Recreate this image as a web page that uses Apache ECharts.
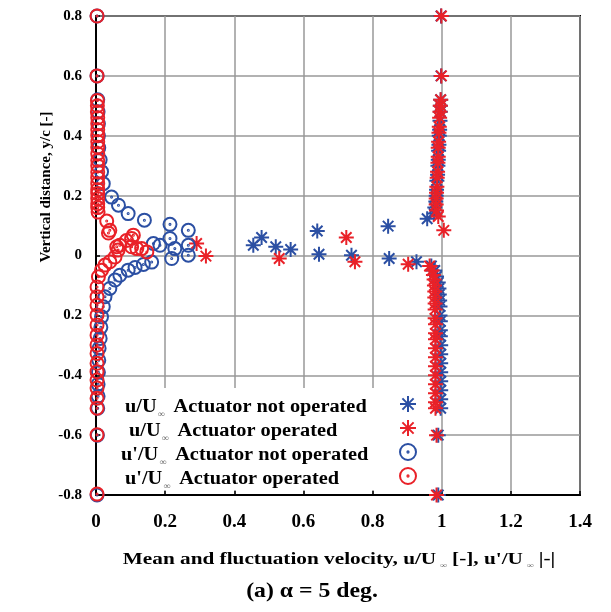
<!DOCTYPE html>
<html>
<head>
<meta charset="utf-8">
<script src="https://cdn.jsdelivr.net/npm/echarts@6/dist/echarts.min.js"></script>
<style>
  html, body { margin: 0; padding: 0; background: #fff; }
  #chart { width: 611px; height: 612px; }
</style>
</head>
<body>
<div id="chart"></div>
<script>
// tick labels as printed (the -0.2 label has lost its minus sign in the original)
var xTicks = ['0', '0.2', '0.4', '0.6', '0.8', '1', '1.2', '1.4']
var yTicks = { '0.8': '0.8', '0.6': '0.6', '0.4': '0.4', '0.2': '0.2', '0': '0', '-0.2': '0.2', '-0.4': '-0.4', '-0.6': '-0.6', '-0.8': '-0.8' }

var legendNames = [
  'u/U∞ Actuator not operated',
  'u/U∞ Actuator operated',
  "u'/U∞ Actuator not operated",
  "u'/U∞ Actuator operated"
]

// [velocity, y/c]
var meanOff = [
  [0.998, 0.8], [0.998, 0.6], [0.997, 0.52], [0.996, 0.5], [0.996, 0.48], [0.995, 0.45],
  [0.994, 0.42], [0.993, 0.4], [0.992, 0.37], [0.991, 0.35], [0.99, 0.32], [0.989, 0.3],
  [0.988, 0.27], [0.986, 0.25], [0.985, 0.22], [0.984, 0.2], [0.983, 0.18], [0.98, 0.16],
  [0.978, 0.14], [0.958, 0.123], [0.845, 0.098], [0.64, 0.082], [0.479, 0.06], [0.455, 0.034],
  [0.52, 0.029], [0.563, 0.02], [0.645, 0.004], [0.739, 0.001], [0.848, -0.01], [0.927, -0.021],
  [0.97, -0.035], [0.98, -0.05], [0.985, -0.07], [0.99, -0.09], [0.992, -0.11], [0.993, -0.13],
  [0.994, -0.15], [0.995, -0.17], [0.995, -0.2], [0.996, -0.22], [0.996, -0.25], [0.996, -0.27],
  [0.997, -0.3], [0.997, -0.33], [0.997, -0.36], [0.997, -0.39], [0.997, -0.42], [0.997, -0.45],
  [0.997, -0.48], [0.997, -0.51], [0.99, -0.6], [0.99, -0.8]
]
var meanOn = [
  [0.999, 0.8], [0.999, 0.6], [0.997, 0.52], [0.996, 0.5], [0.995, 0.48], [0.994, 0.46],
  [0.993, 0.43], [0.992, 0.41], [0.991, 0.38], [0.99, 0.36], [0.99, 0.33], [0.989, 0.31],
  [0.988, 0.28], [0.987, 0.26], [0.986, 0.23], [0.985, 0.21], [0.984, 0.19], [0.984, 0.17],
  [0.985, 0.15], [0.99, 0.13], [1.006, 0.084], [0.724, 0.06], [0.291, 0.04], [0.318, -0.002],
  [0.53, -0.01], [0.749, -0.021], [0.903, -0.029], [0.965, -0.035], [0.972, -0.05], [0.976, -0.065],
  [0.978, -0.08], [0.979, -0.1], [0.98, -0.12], [0.98, -0.14], [0.981, -0.16], [0.981, -0.18],
  [0.981, -0.21], [0.982, -0.23], [0.982, -0.26], [0.982, -0.28], [0.982, -0.31], [0.982, -0.34],
  [0.982, -0.37], [0.982, -0.4], [0.982, -0.43], [0.982, -0.46], [0.982, -0.49], [0.982, -0.51],
  [0.985, -0.6], [0.985, -0.8]
]
var fluctOff = [
  [0.003, 0.8], [0.003, 0.6], [0.005, 0.52], [0.006, 0.48], [0.007, 0.44], [0.007, 0.4],
  [0.008, 0.36], [0.012, 0.32], [0.016, 0.28], [0.021, 0.24], [0.045, 0.195], [0.065, 0.168],
  [0.093, 0.14], [0.14, 0.118], [0.214, 0.104], [0.267, 0.084], [0.214, 0.057], [0.166, 0.04],
  [0.185, 0.034], [0.267, 0.034], [0.228, 0.023], [0.267, 0.001], [0.219, -0.01], [0.161, -0.022],
  [0.137, -0.03], [0.113, -0.04], [0.093, -0.049], [0.069, -0.066], [0.055, -0.082], [0.04, -0.11],
  [0.026, -0.138], [0.021, -0.171], [0.016, -0.205], [0.014, -0.24], [0.012, -0.277], [0.009, -0.31],
  [0.008, -0.35], [0.007, -0.39], [0.006, -0.43], [0.006, -0.47], [0.005, -0.51], [0.004, -0.6],
  [0.003, -0.8]
]
var fluctOn = [
  [0.003, 0.8], [0.003, 0.6], [0.004, 0.518], [0.004, 0.5], [0.004, 0.479], [0.005, 0.46],
  [0.005, 0.44], [0.005, 0.42], [0.005, 0.401], [0.005, 0.38], [0.005, 0.362], [0.005, 0.34],
  [0.005, 0.318], [0.005, 0.3], [0.005, 0.279], [0.005, 0.26], [0.005, 0.24], [0.005, 0.22],
  [0.005, 0.207], [0.005, 0.19], [0.005, 0.173], [0.005, 0.16], [0.006, 0.145], [0.031, 0.115],
  [0.04, 0.084], [0.036, 0.075], [0.108, 0.068], [0.103, 0.057], [0.088, 0.05], [0.069, 0.034],
  [0.06, 0.029], [0.103, 0.029], [0.118, 0.023], [0.132, 0.023], [0.147, 0.012], [0.064, 0.018],
  [0.055, -0.005], [0.04, -0.021], [0.026, -0.032], [0.016, -0.049], [0.007, -0.071], [0.003, -0.105],
  [0.003, -0.138], [0.003, -0.166], [0.003, -0.199], [0.003, -0.232], [0.003, -0.266], [0.003, -0.299],
  [0.003, -0.327], [0.003, -0.36], [0.003, -0.388], [0.003, -0.416], [0.003, -0.443], [0.003, -0.477],
  [0.003, -0.51], [0.003, -0.599], [0.003, -0.797]
]

var BLUE = '#2b4fa3'
var RED = '#e92128'
var FONT = '"Liberation Serif", "Times New Roman", serif'
var STAR = 'path://M0,-10L0,10M-10,0L10,0M-7,-7L7,7M-7,7L7,-7'
var RING = 'path://M10,0A10,10 0 1,1 -10,0A10,10 0 1,1 10,0ZM0.8,0A0.8,0.8 0 1,1 -0.8,0A0.8,0.8 0 1,1 0.8,0Z'

function makeSeries(name, data, symbol, color, size) {
  return {
    name: name,
    type: 'scatter',
    data: data,
    symbol: symbol,
    symbolSize: size,
    z: 3,
    itemStyle: {
      color: 'transparent',
      borderColor: color,
      borderWidth: 2,
      opacity: 1
    },
    emphasis: { disabled: true }
  }
}

// "u/U∞ ..." -> rich text with a small subscript infinity
function richName(name) {
  var parts = name.split('∞')
  return '{a|' + parts[0] + '}{s|∞}{a|' + parts[1] + '}'
}
var richStyles = {
  a: { fontFamily: FONT, fontWeight: 'bold', fontSize: 18, fill: '#000', color: '#000' },
  s: { fontFamily: FONT, fontSize: 9, fill: '#666', color: '#666', padding: [15, 3, 0, 1] }
}

var legendTextX = [125, 129, 121, 125]
var legendTexts = legendNames.map(function (name, i) {
  return {
    type: 'text',
    z: 5,
    x: legendTextX[i],
    y: 407 + i * 24,
    scaleX: 1.13,
    style: {
      text: richName(name),
      rich: richStyles,
      align: 'left',
      verticalAlign: 'middle'
    }
  }
})

var chart = echarts.init(document.getElementById('chart'))
chart.setOption({
  animation: false,
  grid: {
    left: 96,
    top: 16,
    width: 484,
    height: 479,
    show: true,
    borderColor: '#000',
    borderWidth: 2
  },
  xAxis: {
    type: 'value',
    min: 0,
    max: 1.4,
    interval: 0.2,
    axisLine: { onZero: false, lineStyle: { color: '#000', width: 2 } },
    axisTick: { inside: true, length: 4, lineStyle: { color: '#000', width: 1.5 } },
    splitLine: { lineStyle: { color: '#999', width: 1.5 } },
    axisLabel: {
      margin: 18,
      color: '#000',
      fontFamily: FONT,
      fontWeight: 'bold',
      fontSize: 19,
      formatter: function (v) { return xTicks[Math.round(v / 0.2)] }
    }
  },
  yAxis: {
    type: 'value',
    min: -0.8,
    max: 0.8,
    interval: 0.2,
    axisLine: { onZero: false, lineStyle: { color: '#000', width: 2 } },
    axisTick: { inside: true, length: 4, lineStyle: { color: '#000', width: 1.5 } },
    splitLine: { lineStyle: { color: '#999', width: 1.5 } },
    axisLabel: {
      margin: 14,
      color: '#000',
      fontFamily: FONT,
      fontWeight: 'bold',
      fontSize: 15,
      formatter: function (v) { return yTicks[String(Math.round(v * 10) / 10)] }
    }
  },
  // icon column only; the legend wording is drawn as text on the left
  legend: {
    orient: 'vertical',
    left: 399,
    top: 395,
    padding: 0,
    itemWidth: 16,
    itemHeight: 16,
    itemGap: 6,
    selectedMode: false,
    data: legendNames,
    formatter: function () { return '' }
  },
  graphic: [
    {
      type: 'rect',
      z: 1,
      shape: { x: 101, y: 388, width: 339, height: 102 },
      style: { fill: '#fff' }
    }
  ].concat(legendTexts, [
    {
      type: 'text',
      x: 46,
      y: 187,
      rotation: Math.PI / 2,
      style: {
        text: 'Vertical distance, y/c [-]',
        font: 'bold 15px ' + FONT,
        fill: '#000',
        align: 'center',
        verticalAlign: 'middle'
      }
    },
    {
      type: 'text',
      x: 339,
      y: 560,
      scaleX: 1.25,
      style: {
        text: "{a|Mean and fluctuation velocity, u/U}{s|∞}{a|[-], u'/U}{s|∞}{a||-|}",
        rich: {
          a: { fontFamily: FONT, fontWeight: 'bold', fontSize: 17, fill: '#000', color: '#000' },
          s: { fontFamily: FONT, fontSize: 8, fill: '#666', color: '#666', padding: [12, 4, 0, 3] }
        },
        align: 'center',
        verticalAlign: 'middle'
      }
    },
    {
      type: 'text',
      x: 312,
      y: 591,
      scaleX: 1.08,
      style: {
        text: '(a) α = 5 deg.',
        font: 'bold 22px ' + FONT,
        fill: '#000',
        align: 'center',
        verticalAlign: 'middle'
      }
    }
  ]),
  series: [
    makeSeries(legendNames[0], meanOff, STAR, BLUE, 15),
    makeSeries(legendNames[1], meanOn, STAR, RED, 15),
    makeSeries(legendNames[2], fluctOff, RING, BLUE, 13),
    makeSeries(legendNames[3], fluctOn, RING, RED, 13)
  ]
})
</script>
</body>
</html>
